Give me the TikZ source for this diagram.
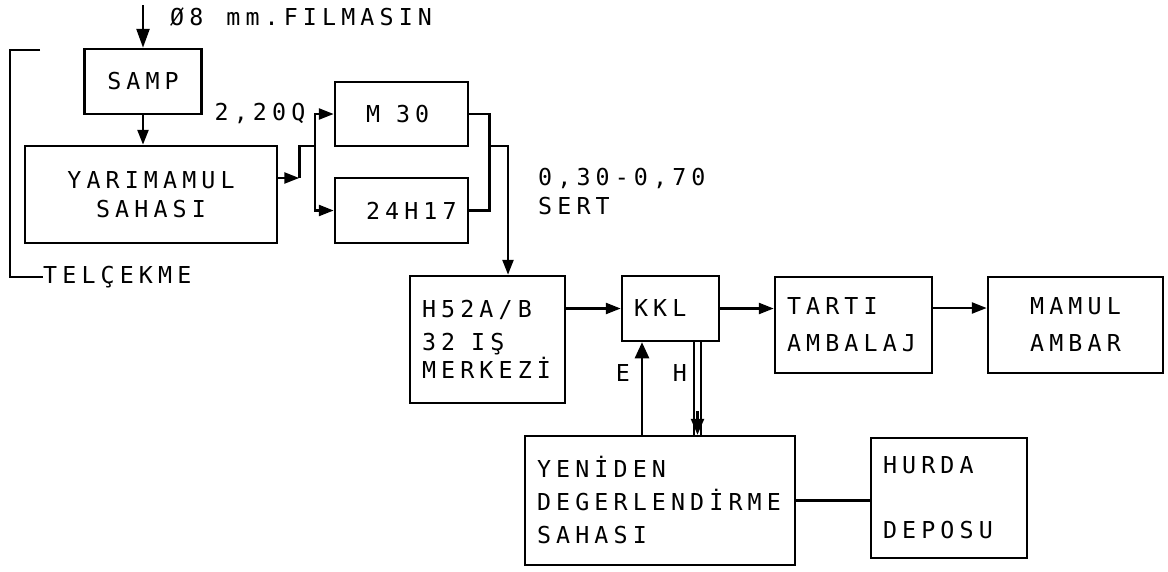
\documentclass[tikz,border=0pt]{standalone}
\usepackage{fontspec}
\usetikzlibrary{arrows.meta, positioning}
\newfontfamily\plotfont[LetterSpace=22]{DejaVu Sans Mono}
\newcommand\plotsize{\fontsize{23.3}{33}\selectfont}
\newcommand\plotgap{\kern16pt\relax}
\tikzset{
    plotBlock/.style={
        draw=black, fill=white, line width=2.5pt, inner xsep=12pt, inner ysep=0pt, align=left, font=\plotfont\plotsize
    },
    plotText/.style={
        inner sep=0pt, align=left, font=\plotfont\plotsize
    },
    plotArrow/.style={
        -{Triangle[length=15pt, width=11pt]}, line width=2.5pt, draw=black
    },
    plotLine/.style={
        line width=2.5pt, draw=black
    }
}
\begin{document}
\begin{tikzpicture}[x=1pt, y=-1pt]
    \useasboundingbox (0,0) rectangle (1168,571);

    % ── UPPER ROW: WIRE ROD INPUT AND DRAWING
    \node[plotText, anchor=west] (filmasin) at (170,17) {Ø8\kern23pt mm.FILMASIN};
    \node[plotBlock, align=center, text width=93pt, minimum height=65pt] (samp) at (143,81.5) {SAMP};
    \node[plotBlock, align=center, text width=228pt, minimum height=97pt] (yariMamul) at (151,194.5) {YARIMAMUL\\[-4pt]SAHASI};
    \node[plotText, anchor=west] (telcekme) at (43,277) {TELÇEKME};
    \node[plotText] (capLbl) at (260,113) {2,20Q};
    \node[plotBlock, inner xsep=31pt, text width=71pt, minimum height=64pt] (m30) at (401.5,114) {M\plotgap 30};
    \node[plotBlock, inner xsep=31pt, text width=71pt, minimum height=65pt] (h24) at (401.5,210.5) {24H17};
    \node[plotText, anchor=base west] (sertLbl) at (538,214.5) {0,30-0,70\\[-4pt]SERT};

    % ── LOWER ROW: PACKING LINE
    \node[plotBlock, text width=131pt, minimum height=127pt] (h52) at (487.5,339.5) {H52A/B\\32\plotgap IŞ\\[-5pt]MERKEZİ};
    \node[plotBlock, text width=73pt, minimum height=65pt] (kkl) at (670.5,308.5) {KKL};
    \node[plotBlock, text width=133pt, minimum height=96pt] (tarti) at (853.5,325) {TARTI\\[4pt]AMBALAJ};
    \node[plotBlock, align=center, text width=151pt, minimum height=96pt] (mamulAmbar) at (1075.5,325) {MAMUL\\[4pt]AMBAR};
    \node[plotBlock, text width=246pt, minimum height=129pt] (yeniden) at (660,500.5) {YENİDEN\\DEGERLENDİRME\\SAHASI};
    \node[plotBlock, text width=132pt, minimum height=120pt] (hurda) at (949,498) {HURDA\\[32pt]DEPOSU};
    \node[plotText] (eLbl) at (623,373) {E};
    \node[plotText] (hLbl) at (680,373) {H};

    % Upper Row Arrows
    \coordinate (feed) at (143,5);
    \draw[plotArrow, -{Triangle[length=19pt, width=13pt]}] (feed) -- (samp.north);
    \draw[plotArrow] (samp.south) -- (samp.south |- yariMamul.north);
    \coordinate (fbTop) at (40,50);
    \draw[plotLine] (fbTop) -- (10,50) |- (telcekme.west);
    \draw[plotArrow] ([yshift=16.5pt]yariMamul.east) -- ++(21,0) coordinate (yk);
    \coordinate (fork) at (315,146);
    \draw[plotLine] (yk) |- (fork);
    \draw[plotArrow] (fork) |- (m30.west);
    \draw[plotArrow] (fork) |- (h24.west);
    \draw[plotLine] (m30.east) -- ++(20,0) |- (h24.east);
    \coordinate (merge) at (488,146);
    \draw[plotArrow] (merge) -| ([xshift=20.5pt]h52.north);

    % Lower Row Arrows
    \draw[plotArrow] (h52.east |- kkl.west) -- (kkl.west);
    \draw[plotArrow] (kkl.east) -- (kkl.east -| tarti.west);
    \draw[plotArrow] ([yshift=17pt]tarti.east) -- ([yshift=17pt]mamulAmbar.west);
    \draw[plotArrow, -{Triangle[length=16pt, width=14pt]}] ([xshift=-18pt]yeniden.north) -- ([xshift=-28.5pt]kkl.south);
    \draw[plotLine, line width=2pt, double distance=5pt] ([xshift=27pt]kkl.south) -- ([xshift=37.5pt]yeniden.north);
    \draw[plotArrow, -{Triangle[length=16pt, width=13pt]}] ([xshift=37.5pt, yshift=24pt]yeniden.north) -- ([xshift=37.5pt]yeniden.north);
    \draw[plotLine] (yeniden.east) -- (yeniden.east -| hurda.west);
\end{tikzpicture}
\end{document}
